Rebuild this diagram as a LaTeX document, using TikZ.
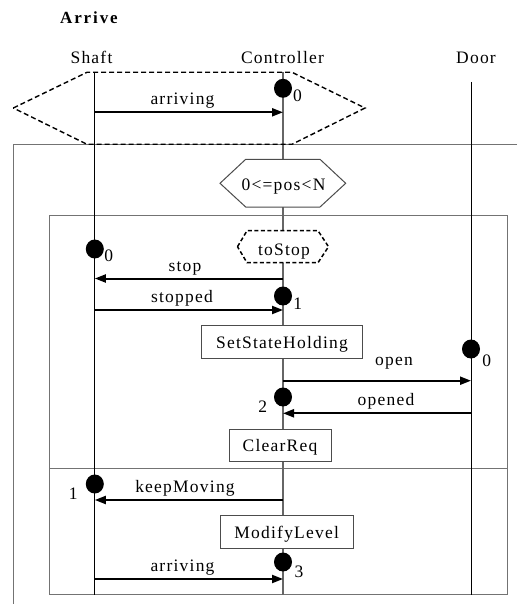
\documentclass[tikz,border=0pt]{standalone}
\usepackage{fontspec}
\setmainfont{Liberation Serif}[LetterSpace=7]
\usetikzlibrary{arrows.meta,shapes.geometric}
\begin{document}
\begin{tikzpicture}[x=1pt,y=-1pt,
  every node/.style={font=\fontsize{17.5}{20}\selectfont, inner sep=0pt},
  lbl/.style={anchor=base},
  lifeline/.style={line width=1pt, draw=black},
  ctrlline/.style={line width=1.3pt, draw=black!60},
  frameline/.style={line width=1.3pt, draw=black!55},
  optframe/.style={line width=1.4pt, draw=black, dash pattern=on 5pt off 3pt},
  guardhex/.style={line width=1pt, draw=black!70, fill=white},
  actbox/.style={draw=black!70, line width=1pt, fill=white, minimum height=32.6pt,
    text height=12.5pt, text depth=0pt},
  msg/.style={line width=2pt, -{Triangle[length=11pt,width=8pt]}},
  statemark/.style={ellipse, fill=black, minimum width=18pt, minimum height=19pt, inner sep=0pt}
]
\useasboundingbox (0,0) rectangle (517,604);

% title and lifeline heads
\node[anchor=base west, font=\fontsize{17}{20}\selectfont\bfseries\addfontfeature{LetterSpace=11}] (title) at (60,24) {Arrive};
\node[lbl] (hShaft) at (91.5,64) {Shaft};
\node[lbl] (hCtrl) at (282.5,64) {Controller};
\node[lbl] (hDoor) at (476,64) {Door};

% enclosing frames
\draw[frameline] (517,144.3) -- (13.5,144.3) -- (13.5,604);
\draw[frameline] (49.3,215.3) rectangle (507.3,594.5);
\draw[frameline] (49.3,468.3) -- (507.3,468.3);

% lifelines
\coordinate (sTop) at (94.8,72.3);
\coordinate (sBot) at (94.8,594.5);
\coordinate (cTop) at (283,72.3);
\coordinate (cBot) at (283,594.5);
\coordinate (dTop) at (471,82);
\coordinate (dBot) at (471,594.5);
\draw[lifeline] (sTop) -- (sBot);
\draw[ctrlline] (cTop) -- (cBot);
\draw[lifeline] (dTop) -- (dBot);

% optional region around the first message
\draw[optframe] (13.3,108) -- (87,72.3) -- (292,72.3) -- (365,108) -- (292,144.3) -- (87,144.3) -- cycle;

% guard condition
\draw[guardhex] (220,183.3) -- (245.7,159.3) -- (320,159.3) -- (345.7,183.3) -- (320,207) -- (245.7,207) -- cycle;
\node[lbl] (guard) at (283.5,190) {0<=pos<N};

% condition toStop
\draw[guardhex, draw=black, dash pattern=on 4pt off 2.5pt, line width=1.5pt]
  (237.5,246.7) -- (247,230.7) -- (318,230.7) -- (328.5,246.7) -- (318,262.7) -- (247,262.7) -- cycle;
\node[lbl] (toStop) at (284,255) {toStop};

% actions
\node[actbox, minimum width=160.6pt] (setHold) at (282,342) {SetStateHolding};
\node[actbox, minimum width=102pt] (clearReq) at (280,445.3) {ClearReq};
\node[actbox, minimum width=133.3pt] (modLevel) at (286.7,531.8) {ModifyLevel};

% message end points
\coordinate (m1s) at (94.8,112.3);  \coordinate (m1c) at (283,112.3);
\coordinate (m2c) at (283,278.5);   \coordinate (m2s) at (94.8,278.5);
\coordinate (m3s) at (94.8,310);    \coordinate (m3c) at (283,310);
\coordinate (m4c) at (283,380.7);   \coordinate (m4d) at (471,380.7);
\coordinate (m5d) at (471,413.3);   \coordinate (m5c) at (283,413.3);
\coordinate (m6c) at (283,500);     \coordinate (m6s) at (94.8,500);
\coordinate (m7s) at (94.8,579);    \coordinate (m7c) at (283,579);

% messages
\draw[msg] (m1s) -- (m1c);
\draw[msg] (m2c) -- (m2s);
\draw[msg] (m3s) -- (m3c);
\draw[msg] (m4c) -- (m4d);
\draw[msg] (m5d) -- (m5c);
\draw[msg] (m6c) -- (m6s);
\draw[msg] (m7s) -- (m7c);

\node[lbl] (l1) at (182.5,104.3) {arriving};
\node[lbl] (l2) at (185,271) {stop};
\node[lbl] (l3) at (182,302.5) {stopped};
\node[lbl] (l4) at (394,365) {open};
\node[lbl] (l5) at (386,405.3) {opened};
\node[lbl] (l6) at (185,492) {keepMoving};
\node[lbl] (l7) at (182.5,571) {arriving};

% synchronisation marks
\node[statemark] (k0) at (283,88.3) {};
\node[statemark] (k1) at (94.8,249) {};
\node[statemark] (k2) at (283,296) {};
\node[statemark] (k3) at (471,349) {};
\node[statemark] (k4) at (283,397) {};
\node[statemark] (k5) at (94.8,484) {};
\node[statemark] (k6) at (283,562) {};

\node[lbl] (n0) at (297.5,101.5) {0};
\node[lbl] (n1) at (108.7,261) {0};
\node[lbl] (n2) at (297.7,309) {1};
\node[lbl] (n3) at (486.7,366) {0};
\node[lbl] (n4) at (262.7,412.7) {2};
\node[lbl] (n5) at (73.3,499) {1};
\node[lbl] (n6) at (299,577) {3};
\end{tikzpicture}
\end{document}
